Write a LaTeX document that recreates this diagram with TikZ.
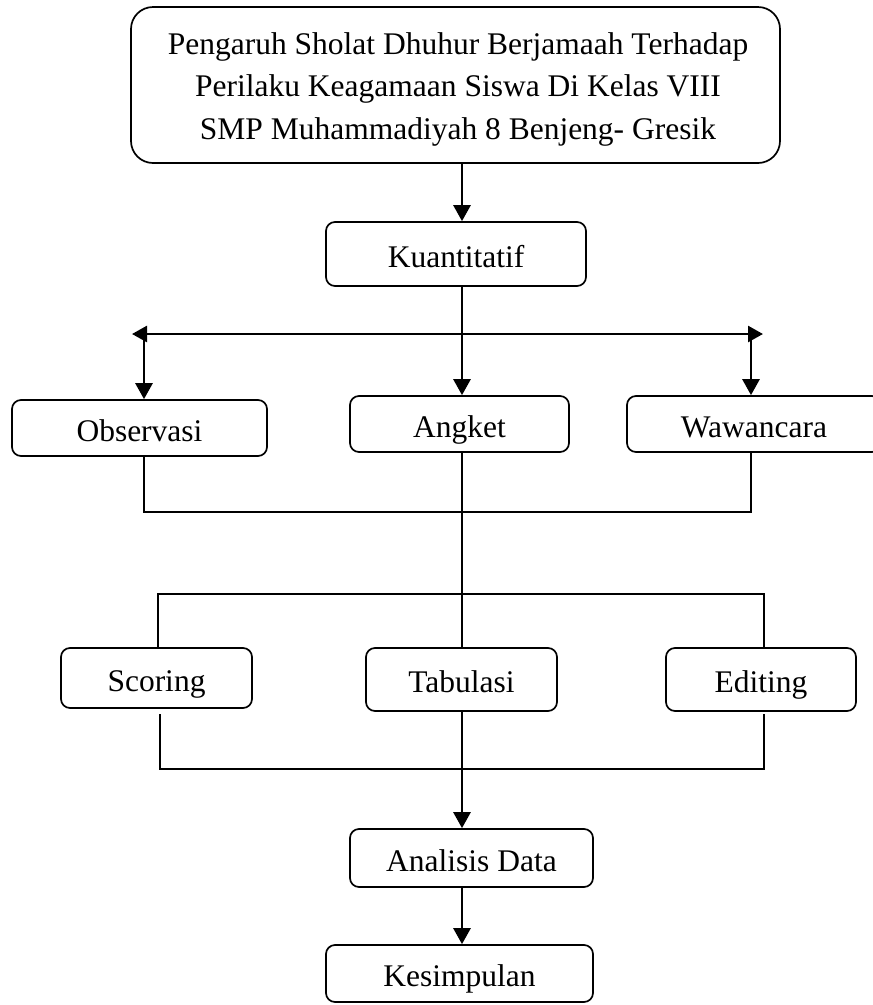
\documentclass[tikz,border=0pt]{standalone}
\usepackage{fontspec}
\setmainfont{Liberation Serif}
\usetikzlibrary{arrows.meta}
\begin{document}
\begin{tikzpicture}[x=1pt,y=-1pt,
  box/.style={draw, line width=1.7pt, rounded corners=9pt, inner sep=0pt,
    font=\fontsize{31.5}{38}\selectfont, text height=26pt, text depth=0pt},
  arr/.style={line width=2.7pt, -{Triangle[length=16pt,width=17pt]}},
  darr/.style={line width=2.7pt, {Triangle[length=15pt,width=16pt]}-{Triangle[length=15pt,width=16pt]}},
  conn/.style={line width=1.5pt}]
\useasboundingbox (0,0) rectangle (873,1005);
% nodes
\node[draw, line width=1.7pt, rounded corners=22pt, minimum width=649pt, minimum height=156pt, inner sep=0pt,
  label={[align=center, font=\fontsize{31.5}{42.5}\selectfont, yshift=-4pt, xshift=2.5pt]center:Pengaruh Sholat Dhuhur Berjamaah Terhadap\\Perilaku Keagamaan Siswa Di Kelas VIII\\SMP Muhammadiyah 8 Benjeng- Gresik}]
  (title) at (455.5,85) {};
\node[box, minimum width=260pt, minimum height=64pt] (kuant) at (456,254) {Kuantitatif};
\node[box, minimum width=255pt, minimum height=56pt] (obs) at (139.5,428) {Observasi};
\node[box, minimum width=219pt, minimum height=56pt] (angket) at (459.5,424) {Angket};
\node[box, minimum width=254pt, minimum height=56pt] (waw) at (754,424) {Wawancara};
\node[box, minimum width=191pt, minimum height=60pt] (scor) at (156.5,678) {Scoring};
\node[box, minimum width=191pt, minimum height=63pt] (tab) at (461.5,679.5) {Tabulasi};
\node[box, minimum width=190pt, minimum height=63pt] (edit) at (761,679.5) {Editing};
\node[box, minimum width=243pt, minimum height=58pt] (anal) at (471.5,858) {Analisis Data};
\node[box, minimum width=267pt, minimum height=57pt] (kes) at (459.5,973.5) {Kesimpulan};
% coordinates
\coordinate (sp) at (462,0);
\coordinate (hl) at (132,334);
\coordinate (hr) at (763,334);
\coordinate (bl) at (144,334);
\coordinate (br) at (751,334);
\coordinate (j1) at (751,512);
\coordinate (j2) at (158,594);
\coordinate (j3) at (764,594);
\coordinate (s1) at (160,714);
\coordinate (s2) at (764,714);
\coordinate (j4) at (764,769);
\coordinate (mid) at (462,769);
% connectors
\draw[arr] (title.south -| sp) -- (kuant.north -| sp);
\draw[arr] (kuant.south -| sp) -- (angket.north -| sp);
\draw[darr] (hl) -- (hr);
\draw[arr] (bl) -- (obs.north -| bl);
\draw[arr] (br) -- (waw.north -| br);
\draw[conn] (obs.south -| bl) |- (j1) -- (waw.south -| j1);
\draw[conn] (angket.south -| sp) -- (tab.north -| sp);
\draw[conn] (scor.north -| j2) |- (j3) -- (edit.north -| j3);
\draw[conn] (s1) |- (j4) -- (s2);
\draw[conn] (tab.south -| sp) -- (mid);
\draw[arr] (mid) -- (anal.north -| sp);
\draw[arr] (anal.south -| sp) -- (kes.north -| sp);
\end{tikzpicture}
\end{document}
